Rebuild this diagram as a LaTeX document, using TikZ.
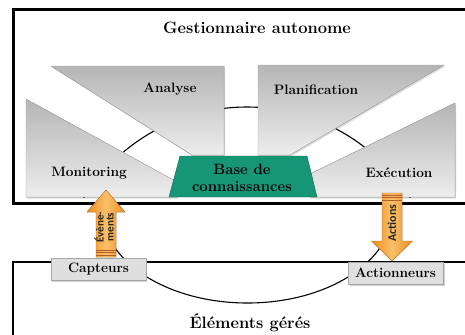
\documentclass[tikz,border=0pt]{standalone}
\usepackage{fontspec}
\newfontfamily\sansb{Carlito}
\usetikzlibrary{shadows}
\definecolor{greenbox}{RGB}{22,150,118}
\definecolor{ormid}{RGB}{236,140,32}
\definecolor{orlight}{RGB}{250,192,105}
\definecolor{orstripe}{RGB}{176,96,40}
\begin{document}
\begin{tikzpicture}[x=1bp,y=-1bp,
  grayshape/.style={draw=gray!65, line width=0.4pt, top color=gray!58, bottom color=gray!14,
    drop shadow={opacity=0.25, shadow xshift=1.2pt, shadow yshift=-1.5pt}},
  lbl/.style={font=\fontsize{13.7}{16}\selectfont\bfseries, text=black, inner sep=0pt},
  bigl/.style={font=\fontsize{16.5}{19}\selectfont\bfseries, text=black, inner sep=0pt},
  iobox/.style={draw=gray!70, fill=gray!25, line width=0.6pt, minimum width=95bp, minimum height=22bp,
    inner sep=0pt, font=\fontsize{13.7}{16}\selectfont\bfseries, text=black,
    drop shadow={opacity=0.35, shadow xshift=1.5pt, shadow yshift=-1.5pt}},
  arr/.style={left color=ormid, right color=ormid, middle color=orlight, draw=ormid!80!black, line width=0.3pt},
  arrlbl/.style={rotate=90, text=black!85, align=center, inner sep=0pt},
  stripe/.style={draw=orstripe, line width=0.7pt},
  ring/.style={draw=black, line width=1.1pt}]
\useasboundingbox (0,0) rectangle (465,334);
\clip (0,0) rectangle (465,334);
\fill[white] (0,0) rectangle (465,334);

% top frame
\draw[line width=3pt, fill=white] (13.5,9.5) rectangle (490,203.5);
\node[bigl] (titre) at (257,28) {Gestionnaire autonome};

% ring behind the phases
\begin{scope}
  \clip (15,11) rectangle (465,197);
  \draw[ring] (247,299) circle[radius=192];
\end{scope}

% phases
\filldraw[grayshape] (26,99) -- (177,182) -- (177,197) -- (26,197) -- cycle;
\filldraw[grayshape] (51,66) -- (224,66) -- (224,155) -- (192,155) -- cycle;
\filldraw[grayshape] (258,65) -- (444,65) -- (290,155) -- (258,155) -- cycle;
\filldraw[grayshape] (455,103) -- (455,197) -- (310,197) -- (310,174) -- cycle;

\node[lbl] (analyse) at (170,89) {Analyse};
\node[lbl] (planif) at (316,90) {Planification};
\node[lbl] (monit) at (89,173) {Monitoring};
\node[lbl] (exec) at (399,173) {Exécution};

% knowledge base
\filldraw[fill=greenbox, draw=greenbox!70!black, line width=0.4pt]
  (180,156) -- (307,156) -- (317,197) -- (169,197) -- cycle;
\node[font=\fontsize{15}{17}\selectfont\bfseries, text=black, align=center, inner sep=0pt]
  (base) at (242,178) {Base de\\connaissances};

% managed elements frame
\draw[line width=2pt] (13,345) -- (13,262) -- (490,262);
\node[bigl] (elem) at (250,323) {Éléments gérés};

% ring of the managed elements
\begin{scope}
  \clip (0,206) rectangle (465,334);
  \draw[ring] (247.5,210) ellipse[x radius=145, y radius=93];
\end{scope}

% arrows
\filldraw[arr] (96,257) -- (96,212) -- (87,212) -- (106,190) -- (125,212) -- (116,212) -- (116,257) -- cycle;
\draw[stripe] (96,250) -- (116,250) (96,252.5) -- (116,252.5) (96,255) -- (116,255);
\node[arrlbl, font=\sansb\bfseries\fontsize{11}{10}\selectfont] (evt) at (104,227) {Évène-\\ments};

\filldraw[arr] (382,193) -- (402,193) -- (402,241) -- (412.5,241) -- (392,261) -- (371.5,241) -- (382,241) -- cycle;
\draw[stripe] (382,195) -- (402,195) (382,197.5) -- (402,197.5) (382,200) -- (402,200);
\node[arrlbl, font=\sansb\bfseries\fontsize{12}{12}\selectfont] (act) at (392,223) {Actions};

% sensors / effectors
\node[iobox] (capteurs) at (98.5,269) {Capteurs};
\node[iobox] (actionneurs) at (395.5,273) {Actionneurs};
\end{tikzpicture}
\end{document}
